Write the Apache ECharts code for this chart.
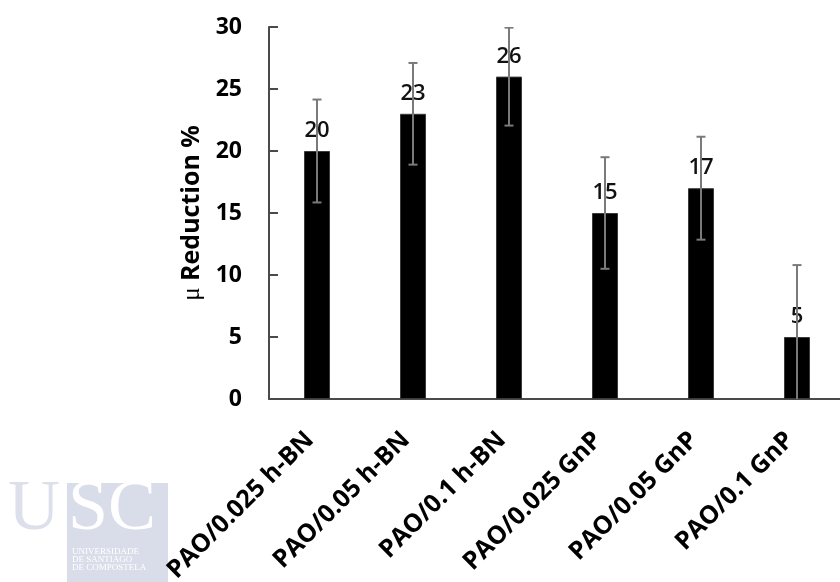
<!DOCTYPE html>
<html>
<head>
<meta charset="utf-8">
<script src="https://cdn.jsdelivr.net/npm/echarts@6/dist/echarts.min.js"></script>
<style>
  html, body { margin: 0; padding: 0; background: #fff; }
  #chart { width: 840px; height: 582px; }
</style>
</head>
<body>
<div id="chart"></div>
<script>
// Friction coefficient reduction per lubricant formulation
const categories = ['PAO/0.025 h-BN', 'PAO/0.05 h-BN', 'PAO/0.1 h-BN', 'PAO/0.025 GnP', 'PAO/0.05 GnP', 'PAO/0.1 GnP'];
const reduction = [20, 23, 26, 15, 17, 5];
// standard deviation shown as symmetric error bars
const deviation = [4.15, 4.1, 3.95, 4.5, 4.15, 5.8];
const yTicks = [0, 5, 10, 15, 20, 25, 30];

const FONT = '"Open Sans", "Noto Sans", sans-serif';

const chart = echarts.init(document.getElementById('chart'), null, { renderer: 'canvas' });

const errData = reduction.map((v, i) => [i, v - deviation[i], v + deviation[i]]);

chart.setOption({
  animation: false,
  backgroundColor: '#ffffff',
  grid: { left: 269, top: 27, width: 576, height: 372, containLabel: false, outerBoundsMode: 'none' },
  xAxis: {
    type: 'category',
    data: categories,
    axisLine: { lineStyle: { color: '#4a4a4a', width: 2 } },
    axisTick: { show: false },
    axisLabel: {
      rotate: 45,
      margin: 30,
      interval: 0,
      padding: [0, 10, 0, 0],
      color: '#000',
      fontFamily: FONT,
      fontWeight: 'bold',
      fontSize: 25
    }
  },
  yAxis: {
    type: 'value',
    min: yTicks[0],
    max: yTicks[yTicks.length - 1],
    interval: 5,
    name: '{mu|μ} Reduction %',
    nameLocation: 'middle',
    nameGap: 64,
    nameTextStyle: {
      color: '#000',
      fontFamily: FONT,
      fontWeight: 'bold',
      fontSize: 25,
      rich: {
        mu: { fontFamily: '"Liberation Serif", serif', fontWeight: 'normal', fontSize: 25, color: '#000' }
      }
    },
    axisLine: { show: true, lineStyle: { color: '#4a4a4a', width: 2 } },
    axisTick: { show: true, inside: true, length: 9, lineStyle: { color: '#4a4a4a', width: 2 } },
    splitLine: { show: false },
    axisLabel: {
      margin: 27,
      color: '#000',
      fontFamily: FONT,
      fontWeight: 'bold',
      fontSize: 23
    }
  },
  series: [
    {
      type: 'bar',
      data: reduction,
      barWidth: 26,
      itemStyle: { color: '#000000', borderColor: '#3a3a3a', borderWidth: 1 },
      label: {
        show: true,
        position: 'top',
        distance: 9,
        color: '#111',
        fontFamily: FONT,
        fontWeight: 600,
        fontSize: 22
      },
      z: 2
    },
    {
      type: 'custom',
      data: errData,
      clip: true,
      z: 5,
      renderItem: function (params, api) {
        const i = api.value(0);
        const lo = api.coord([i, api.value(1)]);
        const hi = api.coord([i, api.value(2)]);
        const cap = 4.5;
        const style = { stroke: '#7a7a7a', lineWidth: 2, fill: null };
        return {
          type: 'group',
          children: [
            { type: 'line', shape: { x1: hi[0], y1: hi[1], x2: lo[0], y2: lo[1] }, style: style },
            { type: 'line', shape: { x1: hi[0] - cap, y1: hi[1], x2: hi[0] + cap, y2: hi[1] }, style: style },
            { type: 'line', shape: { x1: lo[0] - cap, y1: lo[1], x2: lo[0] + cap, y2: lo[1] }, style: style }
          ]
        };
      }
    }
  ],
  graphic: [
    // university mark in the lower-left corner
    { type: 'rect', left: 67, top: 483, shape: { width: 101, height: 99 }, style: { fill: '#d9dde9' }, silent: true },
    { type: 'text', left: 8, top: 474, style: { text: 'U', font: '72px "Liberation Serif", serif', fill: '#dde0ea' }, silent: true },
    { type: 'text', left: 68, top: 474, style: { text: 'SC', font: '72px "Liberation Serif", serif', fill: '#ffffff' }, silent: true },
    { type: 'text', left: 72, top: 547, style: { text: 'UNIVERSIDADE', font: '9px "Liberation Serif", serif', fill: '#ffffff' }, silent: true },
    { type: 'text', left: 72, top: 555, style: { text: 'DE SANTIAGO', font: '9px "Liberation Serif", serif', fill: '#ffffff' }, silent: true },
    { type: 'text', left: 72, top: 563, style: { text: 'DE COMPOSTELA', font: '9px "Liberation Serif", serif', fill: '#ffffff' }, silent: true }
  ]
});
</script>
</body>
</html>
